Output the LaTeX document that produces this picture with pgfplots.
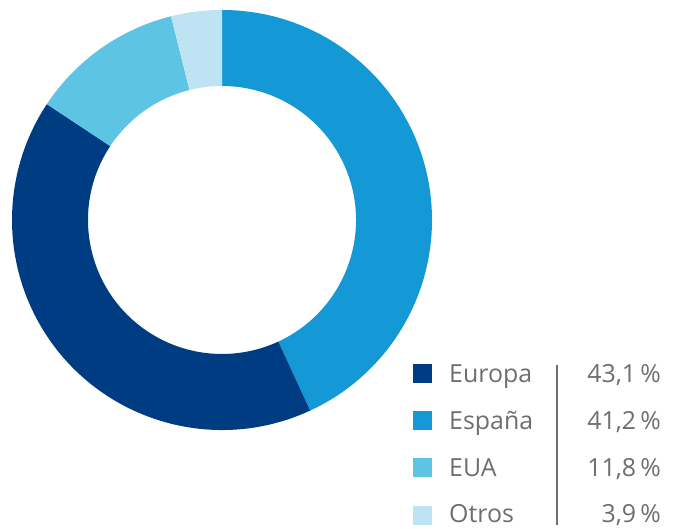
\documentclass[border=0pt]{standalone}
\usepackage{pgfplots}
\pgfplotsset{compat=1.18}
\usepackage{fontspec}
\setmainfont{Open Sans}
\definecolor{cEuropa}{HTML}{003C82}
\definecolor{cEspana}{HTML}{1599D6}
\definecolor{cEUA}{HTML}{5EC4E3}
\definecolor{cOtros}{HTML}{BEE3F2}
\definecolor{txt}{HTML}{6E6E6E}
\begin{document}
\begin{tikzpicture}
% slice values (percent), drawn clockwise from the top
\pgfmathsetmacro{\vA}{43.1}
\pgfmathsetmacro{\vB}{41.2}
\pgfmathsetmacro{\vC}{11.8}
\pgfmathsetmacro{\vD}{3.9}
\pgfmathsetmacro{\aA}{90}
\pgfmathsetmacro{\aB}{\aA-3.6*\vA}
\pgfmathsetmacro{\aC}{\aB-3.6*\vB}
\pgfmathsetmacro{\aD}{\aC-3.6*\vC}
\pgfmathsetmacro{\aE}{\aD-3.6*\vD}
\begin{axis}[hide axis, scale only axis, x=1bp, y=1bp,
  xmin=0, xmax=677, ymin=0, ymax=529, clip=false]
\path (axis cs:0,0) rectangle (axis cs:677,529);
\coordinate (C) at (axis cs:222,309);
\fill[cEspana] ([shift={(\aA:210bp)}]C) arc[start angle=\aA, end angle=\aB, radius=210bp]
  -- ([shift={(\aB:134bp)}]C) arc[start angle=\aB, end angle=\aA, radius=134bp] -- cycle;
\fill[cEuropa] ([shift={(\aB:210bp)}]C) arc[start angle=\aB, end angle=\aC, radius=210bp]
  -- ([shift={(\aC:134bp)}]C) arc[start angle=\aC, end angle=\aB, radius=134bp] -- cycle;
\fill[cEUA] ([shift={(\aC:210bp)}]C) arc[start angle=\aC, end angle=\aD, radius=210bp]
  -- ([shift={(\aD:134bp)}]C) arc[start angle=\aD, end angle=\aC, radius=134bp] -- cycle;
\fill[cOtros] ([shift={(\aD:210bp)}]C) arc[start angle=\aD, end angle=\aE, radius=210bp]
  -- ([shift={(\aE:134bp)}]C) arc[start angle=\aE, end angle=\aD, radius=134bp] -- cycle;
% legend
\fill[cEuropa] (axis cs:413,146) rectangle (axis cs:432,165);
\fill[cEspana] (axis cs:413,99) rectangle (axis cs:432,118);
\fill[cEUA]    (axis cs:413,52) rectangle (axis cs:432,71);
\fill[cOtros]  (axis cs:413,4) rectangle (axis cs:432,23);
\draw[txt, line width=1.3bp] (axis cs:557,164) -- (axis cs:557,4);
\begin{scope}[every node/.style={inner sep=0pt, text=txt, font=\fontsize{25}{30}\selectfont}]
\node[anchor=base west] at (axis cs:449,146.5) {Europa};
\node[anchor=base west] at (axis cs:449,99.7) {España};
\node[anchor=base west] at (axis cs:449,52.8) {EUA};
\node[anchor=base west] at (axis cs:449,6) {Otros};
\node[anchor=base east] at (axis cs:661,146.5) {43,1\,\%};
\node[anchor=base east] at (axis cs:661,99.7) {41,2\,\%};
\node[anchor=base east] at (axis cs:661,52.8) {11,8\,\%};
\node[anchor=base east] at (axis cs:661,6) {3,9\,\%};
\end{scope}
\end{axis}
\end{tikzpicture}
\end{document}
